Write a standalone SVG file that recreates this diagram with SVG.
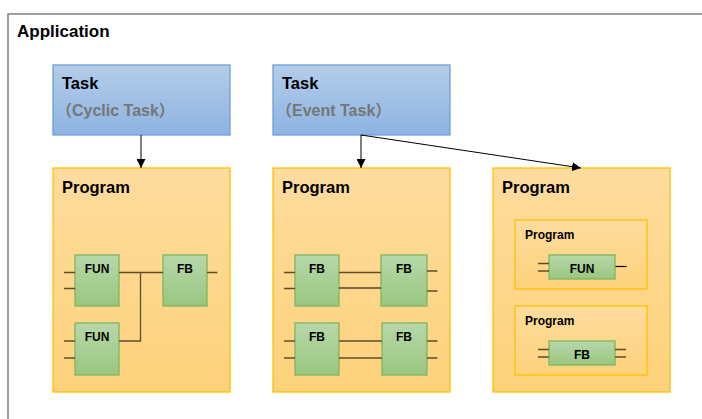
<svg xmlns="http://www.w3.org/2000/svg" width="702" height="419" viewBox="0 0 702 419">
<defs>
<linearGradient id="gTask" x1="0" y1="0" x2="0" y2="1"><stop offset="0" stop-color="#b4cde9"/><stop offset="1" stop-color="#8db3e2"/></linearGradient>
<linearGradient id="gProg" x1="0" y1="0" x2="0" y2="1"><stop offset="0" stop-color="#fedc9e"/><stop offset="1" stop-color="#fdd27b"/></linearGradient>
<linearGradient id="gBlk" x1="0" y1="0" x2="0" y2="1"><stop offset="0" stop-color="#b7d8aa"/><stop offset="1" stop-color="#99c680"/></linearGradient>
<marker id="arr" viewBox="0 0 10 10" refX="10" refY="5" markerWidth="9" markerHeight="9" markerUnits="userSpaceOnUse" orient="auto"><path d="M0,0 L10,5 L0,10 z" fill="#000"/></marker>
</defs>
<style>
text{font-family:"Liberation Sans",Arial,"Noto Sans CJK SC",sans-serif;font-weight:bold;fill:#000}
.app{font-size:17px}
.big{font-size:16.5px}
.sub{font-size:16px;fill:#767676}
.sm{font-size:12px}
.task{fill:url(#gTask);stroke:#6d9fd8;stroke-width:1.3}
.prog{fill:url(#gProg);stroke:#ffc000;stroke-width:1.3}
.blk{fill:url(#gBlk);stroke:#7fb560;stroke-width:1.3}
.w{stroke:#5e4e2c;stroke-width:1.3;fill:none}
.c{stroke:#000;stroke-width:1;fill:none}
</style>
<rect x="8" y="14" width="700" height="410" fill="#fff" stroke="#7f7f7f" stroke-width="1.5"/>
<text class="app" x="17" y="36.5">Application</text>

<g id="task1"><rect class="task" x="53" y="65" width="177" height="70"/><text class="big" x="62" y="89">Task</text><text class="sub" x="56" y="116">（Cyclic Task）</text></g>
<g id="task2"><rect class="task" x="273" y="65" width="177" height="70"/><text class="big" x="282" y="89">Task</text><text class="sub" x="276" y="116">（Event Task）</text></g>

<g id="program1">
<rect class="prog" x="53" y="168" width="177" height="224"/>
<text class="big" x="62" y="193">Program</text>
<g id="fun1"><rect class="blk" x="75" y="255" width="44" height="51"/><text class="sm" x="97" y="273" text-anchor="middle">FUN</text></g>
<g id="fun2"><rect class="blk" x="75" y="323" width="44" height="52"/><text class="sm" x="97" y="341" text-anchor="middle">FUN</text></g>
<g id="fb1"><rect class="blk" x="163" y="255" width="44" height="51"/><text class="sm" x="185" y="273" text-anchor="middle">FB</text></g>
<path class="w" d="M64,272.5H75M64,288.5H75M64,341H75M64,358H75M119,272.5H163M119,341H140.5V272.5M207,272.5H217.5"/>
</g>

<g id="program2">
<rect class="prog" x="273" y="168" width="177" height="224"/>
<text class="big" x="282" y="193">Program</text>
<g id="fb2a"><rect class="blk" x="295" y="255" width="44" height="51"/><text class="sm" x="317" y="273" text-anchor="middle">FB</text></g>
<g id="fb2b"><rect class="blk" x="381" y="255" width="46" height="51"/><text class="sm" x="404" y="273" text-anchor="middle">FB</text></g>
<g id="fb2c"><rect class="blk" x="295" y="323" width="44" height="52"/><text class="sm" x="317" y="341" text-anchor="middle">FB</text></g>
<g id="fb2d"><rect class="blk" x="382" y="323" width="45" height="52"/><text class="sm" x="404" y="341" text-anchor="middle">FB</text></g>
<path class="w" d="M284,272.5H295M284,288.5H295M339,272.5H381M427,271H437.5M427,291H437.5M284,341H295M284,358H295M339,341H382M339,358H382M427,341H437.5M427,358H437.5"/>
<path d="M339,288H381" stroke="#000" stroke-width="1.2"/>
</g>

<g id="program3">
<rect class="prog" x="493" y="168" width="177" height="224"/>
<text class="big" x="502" y="193">Program</text>
<g id="sub1"><rect class="prog" x="515" y="220" width="132" height="69"/><text class="sm" x="525" y="238.5">Program</text>
<rect class="blk" x="549" y="255" width="66" height="24"/><text class="sm" x="582" y="273" text-anchor="middle">FUN</text>
<path class="w" d="M538,263.5H549M538,271H549"/><path d="M615.5,266.5H626.5" stroke="#000" stroke-width="1.2"/></g>
<g id="sub2"><rect class="prog" x="515" y="306" width="132" height="69"/><text class="sm" x="525" y="324.5">Program</text>
<rect class="blk" x="549" y="341" width="66" height="24"/><text class="sm" x="582" y="359" text-anchor="middle">FB</text>
<path class="w" d="M538,349.5H549M538,357H549M615,349.5H626M615,357H626"/></g>
</g>

<g id="connectors">
<path class="c" d="M141,135V168" marker-end="url(#arr)"/>
<path class="c" d="M361,135V168" marker-end="url(#arr)"/>
<path class="c" d="M361,135L581,168" marker-end="url(#arr)"/>
</g>
</svg>
